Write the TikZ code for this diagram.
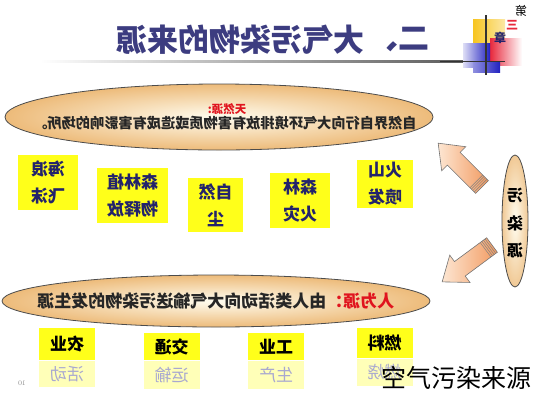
\documentclass[tikz,border=0pt]{standalone}
\usepackage{fontspec}
\newfontfamily\cjk{Noto Sans CJK SC}
\usetikzlibrary{shapes.geometric}
\definecolor{navy}{HTML}{23236B}
\definecolor{titleblue}{HTML}{3C3C80}
\definecolor{srcred}{HTML}{E0141E}
\definecolor{boxyellow}{HTML}{FFFF1A}
\definecolor{paleyellow}{HTML}{FFFFB8}
\definecolor{ghost}{HTML}{A8A8D0}
\definecolor{ellout}{HTML}{EDBB7A}
\definecolor{ellin}{HTML}{FFFDF0}
\definecolor{arrtip}{HTML}{F29A60}
\definecolor{arrtail}{HTML}{FDE6D2}
\definecolor{deco gold}{HTML}{F7C520}
\definecolor{deco red}{HTML}{E8283C}
\definecolor{deco blue}{HTML}{2222C0}
\newcommand{\mr}[1]{\reflectbox{#1}}
\begin{document}
\begin{tikzpicture}[x=1pt,y=-1pt,
  every node/.style={font=\cjk, inner sep=0pt},
  srcell/.style={ellipse, draw=black!70, line width=0.8pt, inner color=ellin, outer color=ellout},
  natbox/.style={fill=boxyellow, text=navy, align=center,
    font=\cjk\bfseries\fontsize{17}{27}\selectfont},
  humtop/.style={fill=boxyellow, text=black, minimum width=56pt,
    font=\cjk\bfseries\fontsize{17}{17}\selectfont},
  humbot/.style={fill=paleyellow, text=ghost, minimum width=56pt,
    font=\cjk\fontsize{17}{17}\selectfont},
  blockarrow/.style={draw=black!55, line width=0.6pt, left color=arrtail, right color=arrtip},
  stripe/.style={draw=black!50, line width=0.5pt}
]
\useasboundingbox (0,0) rectangle (533,400);

% ---- title and decoration ----
\shade[left color=white, right color=black!65] (40,60.8) rectangle (470,62.6);
\shade[left color=deco gold, right color=deco gold!40] (473,19) rectangle (505,45);
\shade[left color=deco red, right color=white] (490,38) rectangle (522,65);
\shade[left color=deco blue!15, right color=deco blue] (463,43) rectangle (490,67);
\shade[left color=deco blue!50, right color=deco blue] (473,62) rectangle (500,72);
\draw[black!80, line width=1.2pt] (440,61.5) -- (505,61.5);
\draw[black!80, line width=1.2pt] (486,15) -- (486,75);
\node[font=\cjk\fontsize{12}{12}\selectfont] (di) at (521,11) {\mr{第}};
\node[font=\cjk\bfseries\fontsize{12}{12}\selectfont, text=deco red] (san) at (512,25) {\mr{三}};
\node[font=\cjk\bfseries\fontsize{12}{12}\selectfont, text=navy] (zhang) at (500,38) {\mr{章}};
\node[font=\cjk\bfseries\fontsize{31}{31}\selectfont, text=titleblue] (title) at (240,40) {\mr{大气污染物的来源}};
\node[font=\cjk\bfseries\fontsize{31}{31}\selectfont, text=titleblue] (titlenum) at (398,40) {\mr{二、}};

% ---- natural sources ----
\node[srcell, minimum width=428pt, minimum height=66pt] (natell) at (219,117) {};
\node[font=\cjk\bfseries\fontsize{11.5}{11.5}\selectfont, text=srcred] (natlab) at (227,109) {\mr{天然源:}};
\node[font=\cjk\bfseries\fontsize{14.2}{14.2}\selectfont, text=black!85] (natdef) at (225,123)
  {\mr{自然界自行向大气环境排放有害物质或造成有害影响的场所。}};

\node[natbox, minimum width=60pt, minimum height=55pt] (n1) at (48,182.5) {\mr{海浪}\\\mr{飞沫}};
\node[natbox, minimum width=71pt, minimum height=55pt] (n2) at (132.5,195.5) {\mr{森林植}\\\mr{物释放}};
\node[natbox, minimum width=55pt, minimum height=54pt] (n3) at (215.5,205) {\mr{自然}\\\mr{尘}};
\node[natbox, minimum width=60pt, minimum height=55pt] (n4) at (300,200.5) {\mr{森林}\\\mr{火灾}};
\node[natbox, minimum width=56pt, minimum height=48pt] (n5) at (385,184) {\mr{火山}\\\mr{喷发}};

% ---- pollution source ellipse and arrows ----
\node[srcell, minimum width=26pt, minimum height=132pt, inner color=ellin, outer color=ellout!80] (src) at (515,221) {};
\node[font=\cjk\bfseries\fontsize{16}{16}\selectfont] (s1) at (515,195) {\mr{污}};
\node[font=\cjk\bfseries\fontsize{16}{16}\selectfont] (s2) at (515,223) {\mr{染}};
\node[font=\cjk\bfseries\fontsize{16}{16}\selectfont] (s3) at (515,250) {\mr{源}};

\begin{scope}[shift={(482,187)}, rotate=135]
  \path[blockarrow] (0,-9) -- (40,-9) -- (40,-17) -- (62,0) -- (40,17) -- (40,9) -- (0,9) -- cycle;
  \foreach \t in {2,4,6,8} \draw[stripe] (\t,-9) -- (\t,9);
\end{scope}
\begin{scope}[shift={(492,245)}, rotate=216.5]
  \path[blockarrow] (0,-9) -- (40,-9) -- (40,-17) -- (62,0) -- (40,17) -- (40,9) -- (0,9) -- cycle;
  \foreach \t in {2,4,6,8} \draw[stripe] (\t,-9) -- (\t,9);
\end{scope}

% ---- human sources ----
\node[srcell, minimum width=428pt, minimum height=52pt] (humell) at (216,301) {};
\node[font=\cjk\bfseries\fontsize{17}{17}\selectfont, text=black!85] (humdef) at (216,301)
  {\mr{\textcolor{srcred}{人为源：}由人类活动向大气输送污染物的发生源}};

\foreach \x/\yt/\htop/\hbot/\a/\b/\n in {67/328/32/26/农业/活动/A, 171.5/333/27/28/交通/运输/B,
    276/333/27/28/工业/生产/C, 384.5/328/30/27/燃料/燃烧/D}{
  \node[humtop, minimum height=\htop pt, anchor=north] (top\n) at (\x,\yt) {\mr{\a}};
  \node[humbot, minimum height=\hbot pt, anchor=north] (bot\n) at (top\n.south) {\mr{\b}};
}

\node[font=\fontsize{7}{7}\selectfont, text=black!45] (page) at (22,383) {\mr{10}};
\node[font=\cjk\fontsize{25}{25}\selectfont, text=black] (wm) at (456,378) {空气污染来源};
\end{tikzpicture}
\end{document}
